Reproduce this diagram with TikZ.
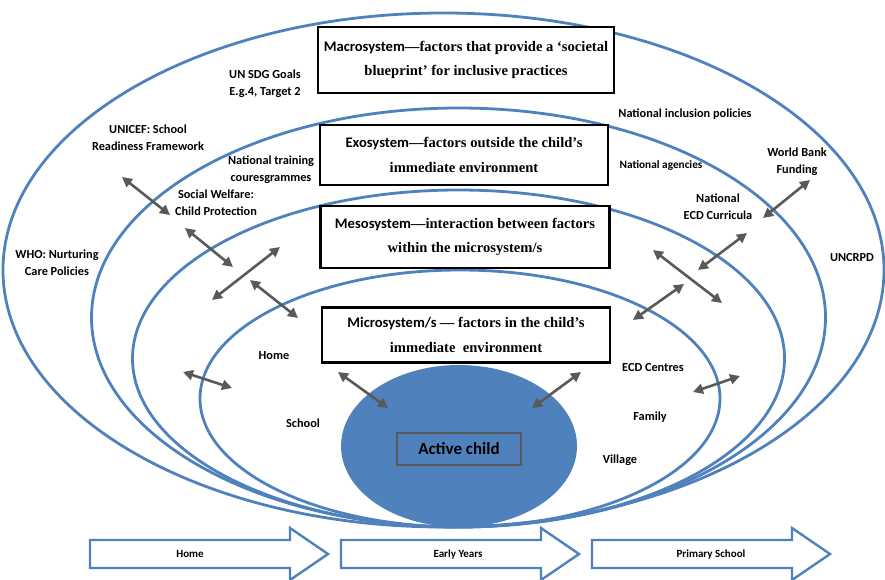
\documentclass[tikz,border=0pt]{standalone}
\usepackage{fontspec}
\setmainfont{Carlito}
\newfontfamily\boxserif{Liberation Serif}
\usetikzlibrary{arrows.meta,shapes.geometric}
\definecolor{ringblue}{HTML}{4F81BD}
\definecolor{linkgray}{HTML}{595959}
\newcommand{\sysdesc}[1]{{\boxserif\bfseries #1}}

\begin{document}
\begin{tikzpicture}[x=1pt, y=-1pt, >={Triangle[length=10pt,width=10pt]}]
  \tikzstyle{ring} = [draw=ringblue, line width=2.8pt]
  \tikzstyle{sysbox} = [draw=black, line width=2.6pt, fill=white, align=center, inner sep=0pt, font=\fontsize{14.6}{24.5}\selectfont]
  \tikzstyle{factor} = [align=center, font=\bfseries\fontsize{12.3}{17}\selectfont]
  \tikzstyle{link} = [<->, draw=linkgray, line width=2.6pt]
  \tikzstyle{stage} = [draw=ringblue, line width=2.4pt, fill=white, line join=miter]

  \useasboundingbox (0,0) rectangle (885,579);

  % systems, outer to inner
  \draw[ring] (443.5,270) ellipse [x radius=440.5pt, y radius=257pt];
  \draw[ring] (458.5,317.5) ellipse [x radius=367pt, y radius=209.5pt];
  \draw[ring] (458.5,358.5) ellipse [x radius=326pt, y radius=168.5pt];
  \draw[ring] (460,398.5) ellipse [x radius=260pt, y radius=128.5pt];

  \node[ellipse, fill=ringblue, minimum width=236pt, minimum height=162pt, inner sep=0pt] (child) at (459,446) {};
  \node[draw=linkgray, line width=2pt, minimum width=124pt, minimum height=32pt, font=\bfseries\fontsize{17}{19}\selectfont] (active) at (459,449) {Active child};

  \node[sysbox, minimum width=296pt, minimum height=66pt] (macro) at (466,60)
    {\textbf{Macrosystem}\sysdesc{—factors that provide a ‘societal}\\\sysdesc{blueprint’ for inclusive practices}};
  \node[sysbox, minimum width=288pt, minimum height=60pt] (exo) at (464,155)
    {\textbf{Exosystem}\sysdesc{—factors outside the child’s}\\\sysdesc{immediate environment}};
  \node[sysbox, minimum width=289pt, minimum height=62pt] (meso) at (465,237)
    {\textbf{Mesosystem}\sysdesc{—interaction between factors}\\\sysdesc{within the microsystem/s}};
  \node[sysbox, minimum width=288pt, minimum height=55pt] (micro) at (466,335)
    {\textbf{Microsystem/s} \sysdesc{— factors in the child’s}\\\sysdesc{immediate\ \ environment}};

  \node[factor] (sdg) at (265,84) {UN SDG Goals\\E.g.4, Target 2};
  \node[factor] (unicef) at (148,138) {UNICEF: School\\Readiness Framework};
  \node[factor] (training) at (271,170) {National training\\couresgrammes};
  \node[factor] (welfare) at (216,203) {Social Welfare:\\Child Protection};
  \node[factor] (who) at (57,263) {WHO: Nurturing\\Care Policies};
  \node[factor] (inclusion) at (685,114) {National inclusion policies};
  \node[factor, font=\bfseries\fontsize{11.3}{12}\selectfont] (agencies) at (661,165) {National agencies};
  \node[factor] (worldbank) at (797,162) {World Bank\\Funding};
  \node[factor] (curricula) at (718,207) {National\\ECD Curricula};
  \node[factor] (uncrpd) at (852,258) {UNCRPD};
  \node[factor] (home) at (274,356) {Home};
  \node[factor] (school) at (303,423) {School};
  \node[factor] (centres) at (653,368) {ECD Centres};
  \node[factor] (family) at (650,417) {Family};
  \node[factor] (village) at (620,460) {Village};

  % interactions between the systems
  \foreach \i/\xa/\ya/\xb/\yb in {1/122/177/170/215, 2/185/228/233/267, 3/212/300/280/247,
      4/250/280/298/318, 5/183/372/232/388, 6/338/372/388/408, 7/532/408/581/372,
      8/633/320/684/284, 9/653/250/722/303, 10/698/270/747/233, 11/763/218/810/180,
      12/693/392/740/376} {
    \coordinate (s\i) at (\xa,\ya);
    \coordinate (t\i) at (\xb,\yb);
    \draw[link] (s\i) -- (t\i);
  }

  % transitions
  \foreach \x/\tx/\name/\txt in {90/190/home/Home, 341/458/early/Early Years, 592/711/primary/Primary School} {
    \draw[stage] (\x,540) -- (\x+200,540) -- (\x+200,528) -- (\x+238,554) -- (\x+200,580) -- (\x+200,568) -- (\x,568) -- cycle;
    \node[font=\bfseries\fontsize{11}{12}\selectfont] (\name) at (\tx,554) {\txt};
  }
\end{tikzpicture}
\end{document}
